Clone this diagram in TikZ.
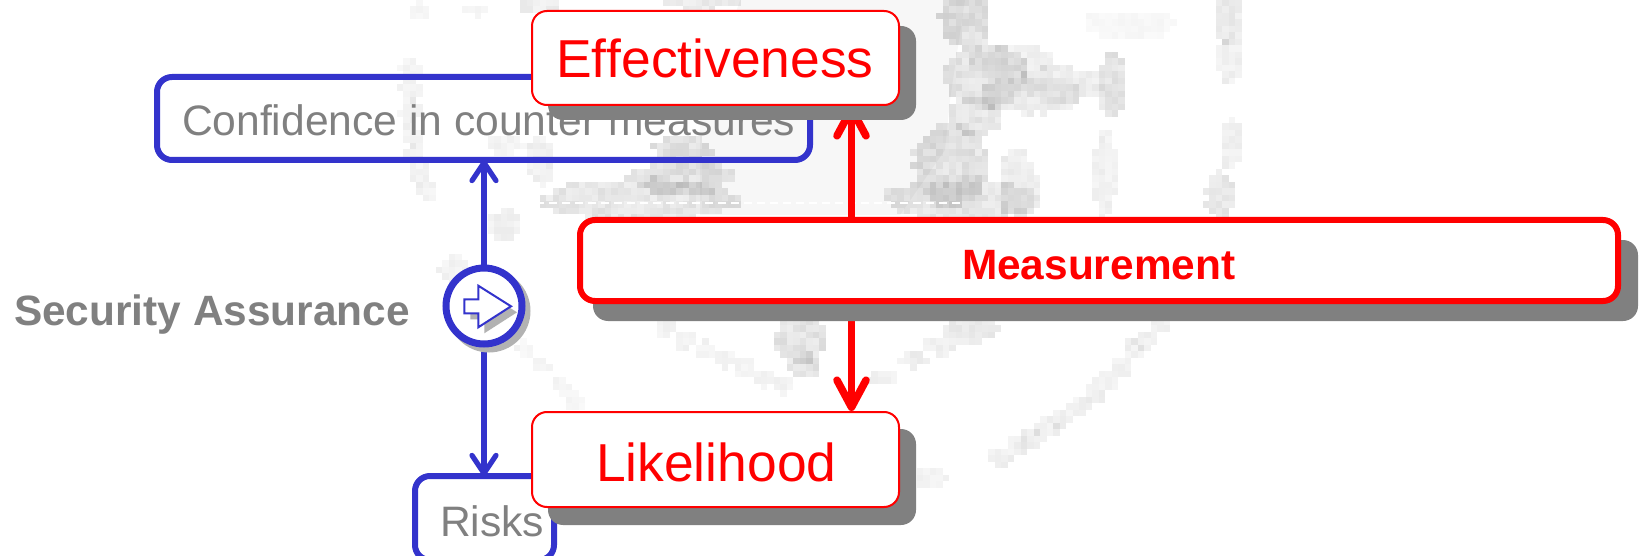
\documentclass[tikz,border=0pt]{standalone}
\usepackage{fontspec}
\setmainfont[Ligatures=NoCommon,Kerning=Off]{Liberation Sans}
\usetikzlibrary{arrows.meta}
\definecolor{blu}{HTML}{3333CC}
\definecolor{txtgray}{HTML}{808080}
\definecolor{shade}{HTML}{808080}
\definecolor{redd}{HTML}{FF0000}
\tikzset{
  box/.style={draw, fill=white, rounded corners=7.5pt, inner sep=0pt, outer sep=0pt, anchor=north west},
  bluebox/.style={box, draw=blu, line width=3pt, fill=none},
  redbox/.style={box, draw=redd, line width=1pt},
  measbox/.style={box, draw=redd, line width=3pt},
  shadowbox/.style={fill=shade, draw=none, rounded corners=7.5pt},
  txt/.style={inner sep=0pt, outer sep=0pt, anchor=base west},
  bigred/.style={txt, text=redd, font=\fontsize{26.7}{30}\selectfont},
  graytxt/.style={txt, text=txtgray, font=\fontsize{21.3}{25}\selectfont},
  boldtxt/.style={txt, font=\fontsize{21.2}{25}\selectfont\bfseries},
  bluearrow/.style={draw=blu, line width=2.6pt, -{Straight Barb[length=9pt,width=12pt,round]}},
  redarrow/.style={draw=redd, line width=3.8pt, -{Straight Barb[length=13.5pt,width=14.5pt,round]}},
}
\newcommand\blotch[5]{%
  \pgfmathtruncatemacro\xa{floor((#1-#3)/6.5)}%
  \pgfmathtruncatemacro\xb{floor((#1+#3)/6.5)}%
  \pgfmathtruncatemacro\ya{floor((#2-#4)/6.5)}%
  \pgfmathtruncatemacro\yb{floor((#2+#4)/6.5)}%
  \foreach \i in {\xa,...,\xb}{\foreach \j in {\ya,...,\yb}{%
    \pgfmathsetmacro\px{\i*6.5}%
    \pgfmathsetmacro\py{\j*6.5}%
    \pgfmathsetmacro\dd{((\px+3.25-#1)/#3)^2+((\py+3.25-#2)/#4)^2+0.3*rnd}%
    \pgfmathsetmacro\op{#5*(0.6+0.7*rnd)/100}%
    \ifdim\dd pt<1.25pt \fill[black,fill opacity=\op] (\px,\py) rectangle ++(6.5,6.5);\fi
  }}%
}
\pgfmathsetseed{7}
\begin{document}
\begin{tikzpicture}[x=0.5pt,y=-0.5pt]
\useasboundingbox (0,0) rectangle (1640,556);
\clip (0,0) rectangle (1640,556);
% faint background picture
\fill[black!3] (740,0)--(965,0)--(950,100)--(945,150)--(900,215)--(700,215)--(700,120)--cycle;
\foreach \a/\b/\c/\d/\e in {
  683/150/28/14/12, 682/178/48/16/12, 640/200/96/20/10, 950/165/36/40/12, 960/200/75/20/10,
  965/20/24/28/13, 985/75/40/30/11, 1010/60/40/15/6, 1030/95/50/18/7, 1060/85/40/18/7,
  1112/85/14/32/11, 975/115/25/20/10, 1018/185/18/35/7, 1105/175/12/42/6,
  1228/20/14/24/8, 1230/60/12/24/6, 1231/145/11/24/6, 1220/195/14/24/9, 1130/25/45/14/3,
  970/330/28/12/8, 940/345/17/9/7, 915/360/16/7/7, 880/378/14/8/6, 930/478/16/9/5,
  800/340/26/22/11, 805/365/17/11/11,
  505/145/20/9/5, 505/225/16/14/6, 455/270/16/14/5, 540/160/14/24/6, 420/12/8/9/4, 475/10/11/6/4,
  540/5/22/9/7, 700/3/38/7/8}
  {\blotch{\a}{\b}{\c}{\d}{\e}}
\foreach \a/\b in {1160/322,1145/340,1133/350,1120/368,1107/382,1093/395,1080/405,1062/418,1047/428,1032/438,1017/445,1000/458}
  {\blotch{\a}{\b}{11}{10}{6}}
\foreach \a/\b in {665/327,685/340,705/350,725/358,745/368,765/378,785/385}
  {\blotch{\a}{\b}{10}{9}{5}}
\foreach \a/\b in {525/350,540/365,560/385,575/400}
  {\blotch{\a}{\b}{9}{9}{4}}
\foreach \a/\b in {410/70,410/90,410/110,411/135,414/155,420/175,428/190}
  {\blotch{\a}{\b}{10}{11}{5}}
% white dashed trace
\draw[white,line width=0.7pt,dash pattern=on 4pt off 2.5pt] (484,203)--(960,203);
% counter measures box
\node[bluebox, minimum width=326.5pt, minimum height=41.5pt] (conf) at (157,77) {};
\node[graytxt] (conftxt) at (182,136) {Confidence in counter measures};
\node[bluebox, minimum width=69.5pt, minimum height=42pt] (risks) at (415,476) {};
\node[graytxt] (riskstxt) at (440,536) {Risks};
\node[boldtxt, text=txtgray] (sectxt) at (14,325) {Security Assurance};
% circle (name first, drawn over connectors below)
\coordinate (circ) at (484,306);
\draw[bluearrow] (circ) -- (circ |- conf.south);
\draw[bluearrow] (circ) -- (circ |- risks.north);
\fill[black!30] (489,311) circle[radius=20.75pt];
\node[circle, draw=blu, fill=white, line width=3.5pt, minimum size=38pt, inner sep=0pt, outer sep=0pt] (circnode) at (circ) {};
\fill[black!30] (470.3,305.3)--(484.3,305.3)--(484.3,291.7)--(517,312.3)--(484.3,333.3)--(484.3,319.3)--(470.3,319.3)--cycle;
\draw[blu,fill=white,line width=1pt,line join=miter] (464.3,299.3)--(478.3,299.3)--(478.3,285.7)--(511,306.3)--(478.3,327.3)--(478.3,313.3)--(464.3,313.3)--cycle;
% red nodes
\coordinate (effS) at (851.5,105);
\coordinate (likN) at (851.5,411);
\coordinate (mid) at (851.5,260);
\draw[redarrow] (mid) -- (effS);
\draw[redarrow] (mid) -- (likN);
\fill[shadowbox] (548,26) rectangle (916,120);
\node[redbox, minimum width=183.5pt, minimum height=47pt] (eff) at (532,11) {};
\node[bigred] (efftxt) at (556,78) {Effectiveness};
\fill[shadowbox] (548,429) rectangle (916,525);
\node[redbox, minimum width=183.5pt, minimum height=47.5pt] (lik) at (532,412) {};
\node[bigred] (liktxt) at (596,481) {Likelihood};
\fill[shadowbox] (593,240) rectangle (1638,321);
\node[measbox, minimum width=519pt, minimum height=40.5pt] (meas) at (580,220) {};
\node[boldtxt, text=redd] (meastxt) at (962,279) {Measurement};
\end{tikzpicture}
\end{document}
